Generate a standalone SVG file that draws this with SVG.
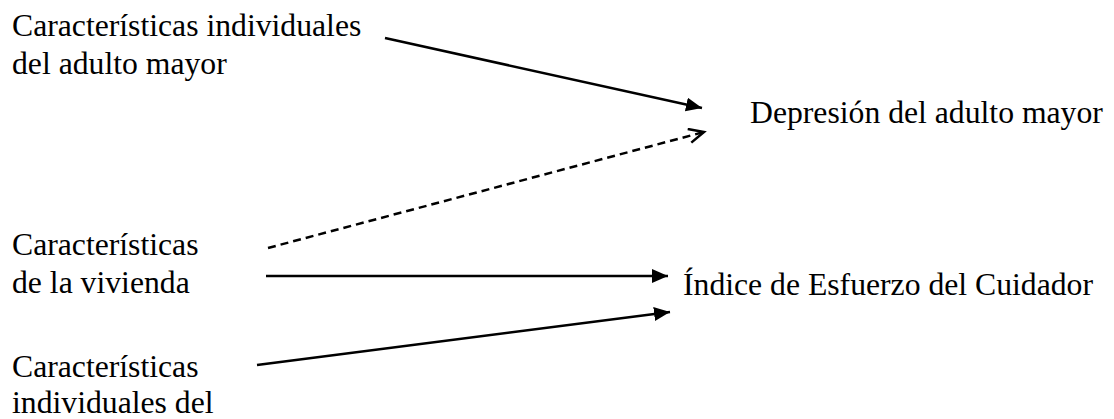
<svg xmlns="http://www.w3.org/2000/svg" width="1114" height="419" viewBox="0 0 1114 419">
<style>
text{font-family:'Liberation Serif',serif;font-size:31.7px;fill:#000}
.c{stroke:#000;stroke-width:2.5;fill:none}
.d{stroke-dasharray:8,5}
</style>
<defs>
<marker id="fa" markerUnits="userSpaceOnUse" markerWidth="20" markerHeight="16" refX="16" refY="7" orient="auto">
<path d="M0,0 L16,7 L0,14 Z" fill="#000"/>
</marker>
<marker id="oa" markerUnits="userSpaceOnUse" markerWidth="20" markerHeight="18" refX="16" refY="8" orient="auto">
<path d="M1,1 L16,8 L1,15" fill="none" stroke="#000" stroke-width="2.5"/>
</marker>
</defs>
<rect width="1114" height="419" fill="#fff"/>
<g id="n1"><text x="12" y="36">Características individuales</text><text x="12" y="74">del adulto mayor</text></g>
<g id="n2"><text x="12" y="255">Características</text><text x="12" y="293">de la vivienda</text></g>
<g id="n3"><text x="12" y="377">Características</text><text x="12" y="413">individuales del</text></g>
<g id="n4"><text x="750" y="123">Depresión del adulto mayor</text></g>
<g id="n5"><text x="683" y="295">Índice de Esfuerzo del Cuidador</text></g>
<g id="connectors">
<line class="c" x1="385" y1="38" x2="702" y2="108" marker-end="url(#fa)"/>
<line class="c d" x1="268" y1="248" x2="704" y2="132" marker-end="url(#oa)"/>
<line class="c" x1="266" y1="276" x2="668" y2="276" marker-end="url(#fa)"/>
<line class="c" x1="257" y1="365" x2="670" y2="312" marker-end="url(#fa)"/>
</g>
</svg>
